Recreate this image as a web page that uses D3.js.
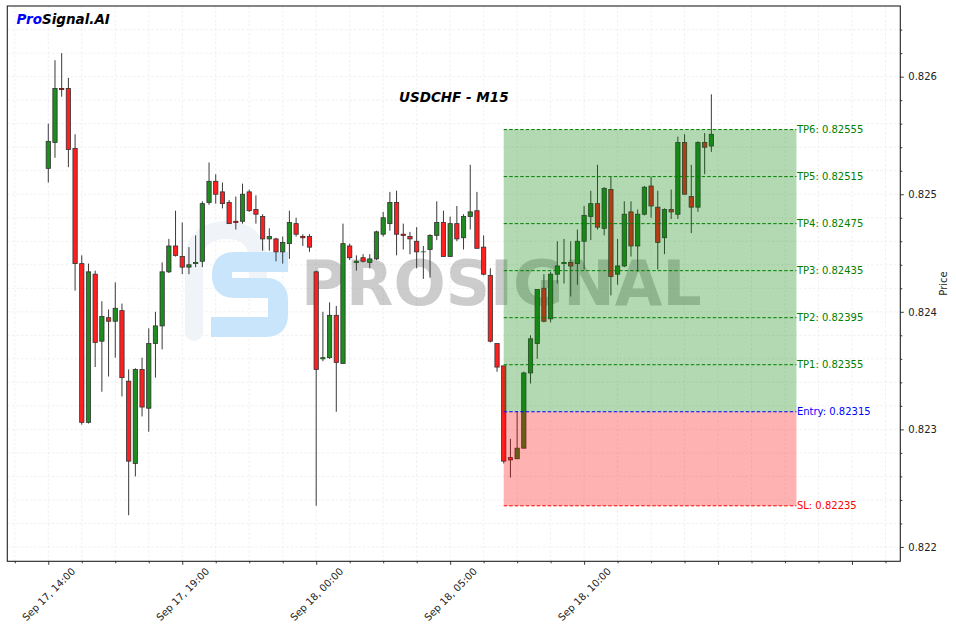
<!DOCTYPE html>
<html>
<head>
<meta charset="utf-8">
<script src="https://cdn.jsdelivr.net/npm/d3@7"></script>
<style>
  html, body { margin: 0; padding: 0; background: #fff; }
  svg { display: block; font-family: "DejaVu Sans", sans-serif; }
</style>
</head>
<body>
<svg id="chart" width="956" height="631"></svg>
<script>
// ---- Data (USDCHF M15, candles starting Sep 17 14:00, 15-minute steps) ----
const opens = [0.82522,0.82544,0.82590,0.82590,0.82539,0.82441,0.82306,0.82432,0.82375,0.82395,
0.82392,0.82401,0.82341,0.82271,0.82351,0.82318,0.82373,0.82388,0.82434,0.82456,
0.82447,0.82438,0.82441,0.82443,0.82493,0.82511,0.82502,0.82493,0.82477,0.82477,
0.82502,0.82487,0.82481,0.82462,0.82462,0.82451,0.82458,0.82475,0.82464,0.82464,
0.82434,0.82360,0.82361,0.82397,0.82356,0.82456,0.82442,0.82446,0.82442,0.82445,
0.82466,0.82475,0.82493,0.82466,0.82464,0.82460,0.82451,0.82453,0.82465,0.82476,
0.82447,0.82475,0.82463,0.82481,0.82486,0.82455,0.82431,0.82373,0.82354,0.82276,
0.82275,0.82284,0.82348,0.82373,0.82420,0.82394,0.82432,0.82441,0.82442,0.82441,
0.82460,0.82481,0.82492,0.82471,0.82504,0.82432,0.82439,0.82485,0.82456,0.82483,
0.82507,0.82489,0.82463,0.82487,0.82483,0.82544,0.82498,0.82489,0.82544,0.82541];
const highs = [0.82560,0.82614,0.82620,0.82599,0.82551,0.82448,0.82441,0.82435,0.82409,0.82402,
0.82425,0.82407,0.82351,0.82352,0.82361,0.82386,0.82400,0.82442,0.82462,0.82486,
0.82476,0.82455,0.82465,0.82494,0.82527,0.82517,0.82510,0.82495,0.82498,0.82509,
0.82504,0.82499,0.82483,0.82471,0.82463,0.82464,0.82486,0.82480,0.82466,0.82466,
0.82435,0.82400,0.82408,0.82405,0.82475,0.82458,0.82448,0.82449,0.82449,0.82469,
0.82485,0.82502,0.82503,0.82475,0.82468,0.82472,0.82456,0.82466,0.82494,0.82486,
0.82481,0.82490,0.82483,0.82525,0.82502,0.82465,0.82437,0.82373,0.82354,0.82292,
0.82315,0.82349,0.82380,0.82419,0.82432,0.82434,0.82460,0.82462,0.82460,0.82470,
0.82490,0.82503,0.82525,0.82506,0.82515,0.82462,0.82494,0.82494,0.82487,0.82507,
0.82515,0.82503,0.82488,0.82504,0.82549,0.82551,0.82525,0.82545,0.82552,0.82585];
const lows = [0.82510,0.82531,0.82583,0.82523,0.82418,0.82304,0.82305,0.82353,0.82332,0.82345,
0.82361,0.82328,0.82227,0.82260,0.82311,0.82298,0.82344,0.82368,0.82433,0.82447,
0.82432,0.82432,0.82438,0.82438,0.82491,0.82492,0.82488,0.82475,0.82470,0.82475,
0.82485,0.82475,0.82452,0.82452,0.82443,0.82441,0.82445,0.82464,0.82456,0.82451,
0.82235,0.82358,0.82360,0.82315,0.82356,0.82444,0.82435,0.82442,0.82437,0.82444,
0.82464,0.82469,0.82448,0.82453,0.82449,0.82437,0.82428,0.82429,0.82461,0.82447,
0.82447,0.82460,0.82453,0.82470,0.82454,0.82431,0.82374,0.82349,0.82271,0.82259,
0.82275,0.82284,0.82339,0.82360,0.82391,0.82391,0.82424,0.82424,0.82413,0.82423,
0.82436,0.82461,0.82470,0.82465,0.82414,0.82423,0.82438,0.82447,0.82434,0.82482,
0.82480,0.82436,0.82449,0.82479,0.82479,0.82500,0.82467,0.82485,0.82517,0.82536];
const closes = [0.82545,0.82590,0.82589,0.82538,0.82441,0.82306,0.82434,0.82374,0.82396,0.82392,
0.82403,0.82344,0.82273,0.82351,0.82319,0.82373,0.82388,0.82434,0.82456,0.82448,
0.82438,0.82440,0.82442,0.82492,0.82511,0.82500,0.82492,0.82475,0.82476,0.82500,
0.82486,0.82483,0.82462,0.82464,0.82451,0.82459,0.82476,0.82466,0.82463,0.82455,
0.82351,0.82361,0.82397,0.82357,0.82458,0.82446,0.82443,0.82443,0.82445,0.82468,
0.82480,0.82493,0.82466,0.82465,0.82462,0.82451,0.82451,0.82465,0.82476,0.82447,
0.82475,0.82462,0.82481,0.82485,0.82454,0.82432,0.82375,0.82353,0.82273,0.82274,
0.82284,0.82348,0.82377,0.82419,0.82392,0.82432,0.82439,0.82442,0.82439,0.82460,
0.82482,0.82492,0.82472,0.82505,0.82430,0.82439,0.82483,0.82456,0.82483,0.82506,
0.82490,0.82459,0.82487,0.82485,0.82544,0.82500,0.82489,0.82544,0.82540,0.82551];

// Trade levels
const tpLevels = [0.82355, 0.82395, 0.82435, 0.82475, 0.82515, 0.82555];
const tpNames = ["TP1", "TP2", "TP3", "TP4", "TP5", "TP6"];
const entryLevel = 0.82315;
const slLevel = 0.82235;
const zoneStart = 68;      // candle index where the trade zone begins
const zoneEnd = 111.7;     // index where the trade zone ends

// Axis ticks
const xMajorTicks = [0, 20, 40, 60, 80, 100, 120];
const xTickLabels = ["Sep 17, 14:00", "Sep 17, 19:00", "Sep 18, 00:00", "Sep 18, 05:00", "Sep 18, 10:00", "", ""];
const yMajorTicks = [0.822, 0.823, 0.824, 0.825, 0.826];

const titleText = "USDCHF - M15";

// ---- Drawing ----
const svg = d3.select("#chart");
const W = 956, H = 631;
const L = 7.3, R = 900.3, T = 6, B = 561.3;

const x = d3.scaleLinear().domain([-6.12, 127.21]).range([L, R]);
const y = d3.scaleLinear().domain([0.821878, 0.826601]).range([B, T]);

svg.append("rect").attr("width", W).attr("height", H).attr("fill", "#fff");

const xMinor = d3.range(-5, 127, 5).filter(v => v % 20 !== 0);
const yMinor = d3.range(0, 24).map(k => +(0.8218 + k * 0.0002).toFixed(4))
  .filter(v => v > y.domain()[0] && v < y.domain()[1] && Math.abs(v * 1000 - Math.round(v * 1000)) > 1e-6);

// grid
const grid = svg.append("g").attr("stroke", "#ececec").attr("stroke-width", 0.8).attr("stroke-dasharray", "2.5,2");
xMajorTicks.concat(xMinor).forEach(v => {
  grid.append("line").attr("x1", x(v)).attr("x2", x(v)).attr("y1", T).attr("y2", B);
});
yMajorTicks.concat(yMinor).forEach(v => {
  grid.append("line").attr("x1", L).attr("x2", R).attr("y1", y(v)).attr("y2", y(v));
});

// watermark
const wm = svg.append("g");
wm.append("path")
  .attr("d", "M194,332 V262 Q194,230 226,230 Q258,230 258,262 V282")
  .attr("fill", "none").attr("stroke", "#f0f3f8").attr("stroke-width", 18).attr("stroke-linecap", "round");
wm.append("path")
  .attr("d", "M288,262 H234 Q222,262 222,274 V276 Q222,288 234,288 H266 Q278,288 278,300 V315 Q278,327 266,327 H211")
  .attr("fill", "none").attr("stroke", "#c9e5fb").attr("stroke-width", 20);
wm.append("text")
  .attr("x", 301).attr("y", 305)
  .attr("font-size", 61.5).attr("font-weight", "bold")
  .attr("fill", "#808080").attr("fill-opacity", 0.4)
  .text("PROSIGNAL");

// candles
const candles = opens.map((o, i) => ({ i, o, h: highs[i], l: lows[i], c: closes[i] }));
const step = x(1) - x(0);
const bw = step * 0.64;
const cg = svg.append("g");
cg.selectAll("line.wick").data(candles).enter().append("line")
  .attr("x1", d => x(d.i)).attr("x2", d => x(d.i))
  .attr("y1", d => y(d.h)).attr("y2", d => y(d.l))
  .attr("stroke", "#3a3a3a").attr("stroke-width", 1);
cg.selectAll("rect.body").data(candles).enter().append("rect")
  .attr("x", d => x(d.i) - bw / 2)
  .attr("width", bw)
  .attr("y", d => y(Math.max(d.o, d.c)))
  .attr("height", d => Math.max(0.01, Math.abs(y(d.o) - y(d.c))))
  .attr("fill", d => d.c >= d.o ? "#1f8c1f" : "#ff1f1f")
  .attr("stroke", d => Math.abs(y(d.o) - y(d.c)) < 1.2 ? (d.c >= d.o ? "#1d4d1d" : "#5a1a1a") : "#333")
  .attr("stroke-width", 0.8);

// trade zones
svg.append("rect")
  .attr("x", x(zoneStart)).attr("width", x(zoneEnd) - x(zoneStart))
  .attr("y", y(tpLevels[tpLevels.length - 1])).attr("height", y(entryLevel) - y(tpLevels[tpLevels.length - 1]))
  .attr("fill", "green").attr("fill-opacity", 0.3);
svg.append("rect")
  .attr("x", x(zoneStart)).attr("width", x(zoneEnd) - x(zoneStart))
  .attr("y", y(entryLevel)).attr("height", y(slLevel) - y(entryLevel))
  .attr("fill", "red").attr("fill-opacity", 0.3);

const levels = tpLevels.map((v, k) => ({ v, label: tpNames[k] + ": " + v.toFixed(5), color: "green" }))
  .concat([{ v: entryLevel, label: "Entry: " + entryLevel.toFixed(5), color: "blue" },
           { v: slLevel, label: "SL: " + slLevel.toFixed(5), color: "red" }]);
const lg = svg.append("g");
levels.forEach(d => {
  lg.append("line")
    .attr("x1", x(zoneStart)).attr("x2", x(zoneEnd))
    .attr("y1", y(d.v)).attr("y2", y(d.v))
    .attr("stroke", d.color).attr("stroke-width", 1).attr("stroke-dasharray", "3.5,2");
  lg.append("text")
    .attr("x", x(zoneEnd) + 0.5).attr("y", y(d.v))
    .attr("dominant-baseline", "central")
    .attr("font-size", 10).attr("fill", d.color)
    .text(d.label);
});

// axes
const axR = svg.append("g").attr("transform", `translate(${R},0)`)
  .call(d3.axisRight(y).tickValues(yMajorTicks).tickFormat(d3.format(".3f")).tickSize(3.5).tickPadding(4.5));
svg.append("g").attr("transform", `translate(${R},0)`)
  .call(d3.axisRight(y).tickValues(yMinor).tickFormat("").tickSize(2));
const axB = svg.append("g").attr("transform", `translate(0,${B})`)
  .call(d3.axisBottom(x).tickValues(xMajorTicks).tickFormat((d, k) => xTickLabels[k]).tickSize(3.5));
svg.append("g").attr("transform", `translate(0,${B})`)
  .call(d3.axisBottom(x).tickValues(xMinor).tickFormat("").tickSize(2));
svg.selectAll(".domain").remove();
svg.selectAll(".tick line").attr("stroke", "#222").attr("stroke-width", 0.9);
axR.selectAll("text").attr("font-size", 10).attr("fill", "#222").attr("font-family", "DejaVu Sans");
axB.selectAll("text")
  .attr("font-size", 10).attr("fill", "#222").attr("font-family", "DejaVu Sans")
  .attr("text-anchor", "middle").attr("dominant-baseline", "central")
  .attr("y", null).attr("dy", null)
  .attr("transform", "translate(0,33) rotate(-45)");

// frame
svg.append("rect").attr("x", L).attr("y", T).attr("width", R - L).attr("height", B - T)
  .attr("fill", "none").attr("stroke", "#222").attr("stroke-width", 1.1);

// y axis label
svg.append("text").attr("transform", "translate(943.5,283.5) rotate(-90)")
  .attr("text-anchor", "middle").attr("dominant-baseline", "central")
  .attr("font-size", 10).attr("fill", "#222").text("Price");

// title
svg.append("text").attr("x", (L + R) / 2).attr("y", 102)
  .attr("text-anchor", "middle").attr("font-size", 13.5)
  .attr("font-weight", "bold").attr("font-style", "italic").attr("fill", "#000")
  .text(titleText);

// brand
const brand = svg.append("text").attr("x", 16.5).attr("y", 23.5)
  .attr("font-size", 13.5).attr("font-weight", "bold").attr("font-style", "italic");
brand.append("tspan").attr("fill", "#0000ff").text("Pro");
brand.append("tspan").attr("fill", "#000").text("Signal.AI");
</script>
</body>
</html>
